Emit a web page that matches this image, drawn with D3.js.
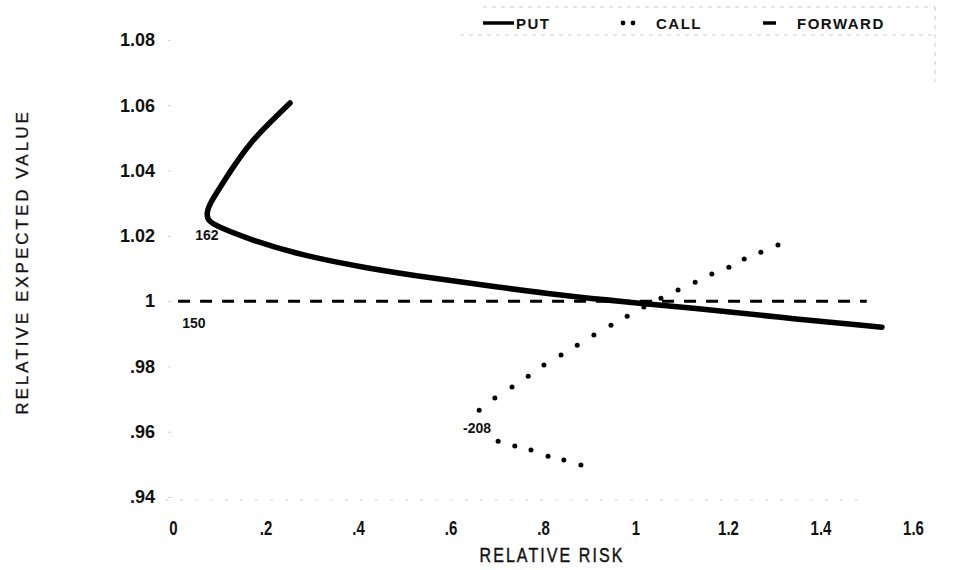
<!DOCTYPE html>
<html>
<head>
<meta charset="utf-8">
<script src="https://cdn.jsdelivr.net/npm/d3@7/dist/d3.min.js"></script>
<style>
  html, body { margin: 0; padding: 0; background: #fff; }
  svg { display: block; }
</style>
</head>
<body>
<svg id="chart" width="956" height="570"></svg>
<script>
// ---- data ----
const xTicks = [0, 0.2, 0.4, 0.6, 0.8, 1, 1.2, 1.4, 1.6];
const xTickLabels = ["0", ".2", ".4", ".6", ".8", "1", "1.2", "1.4", "1.6"];
const yTicks = [0.94, 0.96, 0.98, 1, 1.02, 1.04, 1.06, 1.08];
const yTickLabels = [".94", ".96", ".98", "1", "1.02", "1.04", "1.06", "1.08"];

const putRisk  = [0.253, 0.210, 0.166, 0.130, 0.102, 0.080, 0.072, 0.076, 0.100, 0.166, 0.275, 0.419, 0.562, 0.703, 0.837, 0.982, 1.124, 1.306, 1.533];
const putValue = [1.0607, 1.0548, 1.0484, 1.0411, 1.0349, 1.0300, 1.0268, 1.0245, 1.0226, 1.0189, 1.0141, 1.0101, 1.0070, 1.0043, 1.0018, 0.9997, 0.9979, 0.9951, 0.9920];

const callRisk  = [0.882, 0.845, 0.811, 0.774, 0.739, 0.703, 0.662, 0.696, 0.733, 0.768, 0.802, 0.839, 0.874, 0.910, 0.947, 0.982, 1.018, 1.055, 1.092, 1.129, 1.165, 1.202, 1.235, 1.271, 1.308];
const callValue = [0.9498, 0.9513, 0.9525, 0.9544, 0.9556, 0.9571, 0.9666, 0.9703, 0.9737, 0.9770, 0.9804, 0.9835, 0.9865, 0.9896, 0.9926, 0.9954, 0.9982, 1.0009, 1.0034, 1.0058, 1.0083, 1.0104, 1.0129, 1.0150, 1.0172];

const fwdRisk  = [0.011, 1.50];
const fwdValue = [1.0, 1.0];

const annotations = [
  { text: "162", x: 0.048, y: 1.0187 },
  { text: "150", x: 0.020, y: 0.9917 },
  { text: "-208", x: 0.627, y: 0.9596 }
];
const legendItems = ["PUT", "CALL", "FORWARD"];
const xTitle = "RELATIVE RISK";
const yTitle = "RELATIVE EXPECTED VALUE";

// ---- scales ----
const svg = d3.select("#chart");
const x = d3.scaleLinear().domain([0, 1.6]).range([173, 913]);
const y = d3.scaleLinear().domain([0.94, 1.08]).range([497, 40]);

const FONT = "'Liberation Sans', Arial, Helvetica, sans-serif";

// faint frame specks (scanned axis lines)
const faint = svg.append("g").attr("stroke", "#d6d6d6").attr("stroke-width", 1).attr("fill", "none");
faint.append("line").attr("x1", x(0) - 6).attr("x2", x(0.43)).attr("y1", y(1.08)).attr("y2", y(1.08))
  .attr("stroke-dasharray", "2,14");
faint.append("line").attr("x1", x(0) - 8).attr("x2", x(1.5)).attr("y1", y(0.94) + 3).attr("y2", y(0.94) + 3)
  .attr("stroke-dasharray", "3,12");

// y axis (labels only, faint ticks)
const yAxis = d3.axisLeft(y).tickValues(yTicks)
  .tickFormat((d, i) => yTickLabels[i]).tickSize(4).tickPadding(10);
const gy = svg.append("g").attr("transform", `translate(${x(0) - 2},0)`).call(yAxis);
gy.select(".domain").remove();
gy.selectAll(".tick line").attr("stroke", "#bbb").attr("stroke-dasharray", "1,1");
gy.selectAll(".tick text")
  .attr("font-family", FONT).attr("font-size", 18).attr("font-weight", "bold").attr("fill", "#111")
  .attr("x", 155 - (x(0) - 2)).attr("text-anchor", "end");

// x axis (condensed labels)
const xAxis = d3.axisBottom(x).tickValues(xTicks)
  .tickFormat((d, i) => xTickLabels[i]).tickSize(0).tickPadding(0);
const gx = svg.append("g").attr("transform", `translate(0,${y(0.94)})`).call(xAxis);
gx.select(".domain").remove();
gx.selectAll(".tick text")
  .attr("font-family", FONT).attr("font-size", 20).attr("font-weight", "bold").attr("fill", "#111")
  .attr("dy", null).attr("y", 38).attr("transform", "scale(0.75,1)");

// axis titles
svg.append("text").attr("transform", "translate(552,562) scale(0.8,1)").attr("text-anchor", "middle")
  .attr("font-family", FONT).attr("font-size", 20).attr("letter-spacing", 2.6)
  .attr("fill", "#111").attr("stroke", "#111").attr("stroke-width", 0.4).text(xTitle);
svg.append("text").attr("transform", "translate(28,262) rotate(-90)").attr("text-anchor", "middle")
  .attr("font-family", FONT).attr("font-size", 17).attr("letter-spacing", 3)
  .attr("fill", "#111").attr("stroke", "#111").attr("stroke-width", 0.3).text(yTitle);

// forward dashed line
const line = d3.line().x(d => x(d[0])).y(d => y(d[1]));
svg.append("path")
  .datum(fwdRisk.map((r, i) => [r, fwdValue[i]]))
  .attr("d", line).attr("fill", "none").attr("stroke", "#000")
  .attr("stroke-width", 3).attr("stroke-dasharray", "12,10");

// put solid curve
const curve = d3.line().x(d => x(d[0])).y(d => y(d[1])).curve(d3.curveBasis);
svg.append("path")
  .datum(putRisk.map((r, i) => [r, putValue[i]]))
  .attr("d", curve).attr("fill", "none").attr("stroke", "#000")
  .attr("stroke-width", 5.5).attr("stroke-linecap", "round").attr("stroke-linejoin", "round");

// call dots
svg.append("g").selectAll("circle")
  .data(callRisk.map((r, i) => [r, callValue[i]]))
  .join("circle")
  .attr("cx", d => x(d[0])).attr("cy", d => y(d[1])).attr("r", 2.5).attr("fill", "#000");

// annotations
svg.append("g").selectAll("text").data(annotations).join("text")
  .attr("x", d => x(d.x)).attr("y", d => y(d.y))
  .attr("font-family", FONT).attr("font-size", 14).attr("font-weight", "bold").attr("fill", "#111")
  .text(d => d.text);

// legend
const lg = svg.append("g");
const lgFaint = lg.append("g").attr("stroke", "#cdcdcd").attr("stroke-width", 1).attr("fill", "none")
  .attr("stroke-dasharray", "4,5");
lgFaint.append("line").attr("x1", 483).attr("x2", 935).attr("y1", 7).attr("y2", 7);
lgFaint.append("line").attr("x1", 460).attr("x2", 935).attr("y1", 35).attr("y2", 35);
lgFaint.append("line").attr("x1", 935).attr("x2", 935).attr("y1", 7).attr("y2", 82);

lg.append("line").attr("x1", 483).attr("x2", 514).attr("y1", 23).attr("y2", 23)
  .attr("stroke", "#000").attr("stroke-width", 3.5);
lg.append("circle").attr("cx", 623).attr("cy", 23).attr("r", 2.4).attr("fill", "#000");
lg.append("circle").attr("cx", 633).attr("cy", 23).attr("r", 2.4).attr("fill", "#000");
lg.append("line").attr("x1", 763).attr("x2", 776).attr("y1", 23).attr("y2", 23)
  .attr("stroke", "#000").attr("stroke-width", 3.5);
const lgX = [516, 656, 797];
lg.selectAll("text.lg").data(legendItems).join("text").attr("class", "lg")
  .attr("x", (d, i) => lgX[i]).attr("y", 28.5)
  .attr("font-family", FONT).attr("font-size", 15).attr("font-weight", "bold")
  .attr("letter-spacing", 1.5).attr("fill", "#111").text(d => d);
</script>
</body>
</html>
